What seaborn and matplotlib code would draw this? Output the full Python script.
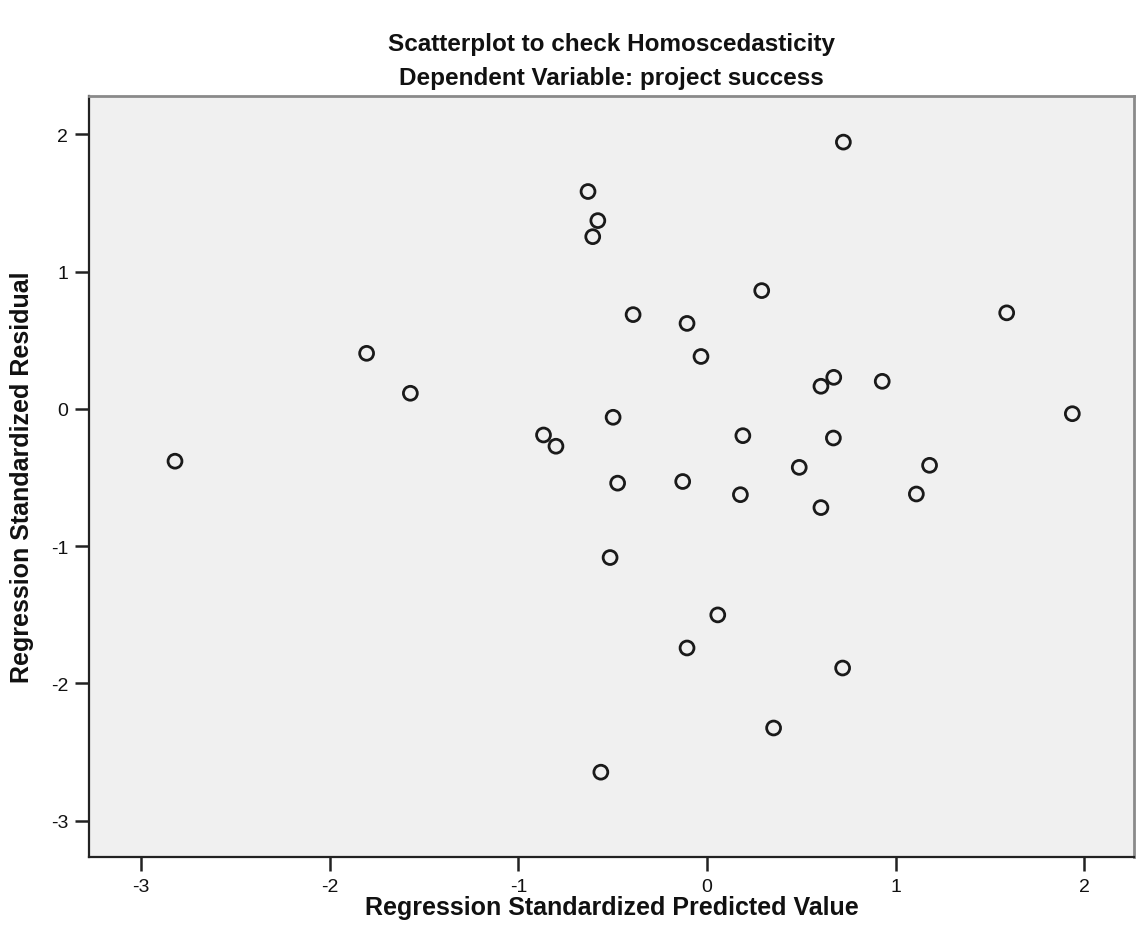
import matplotlib
matplotlib.use("Agg")
import matplotlib.pyplot as plt
import seaborn as sns
import pandas as pd

# Standardized predicted values and standardized residuals from the regression
predicted = [
    0.723, -0.631, -0.579, -0.606, 0.290, -0.392, -0.106, 1.589,
    -1.805, -1.573, -0.032, 0.604, 0.672, 0.929, 1.937, -0.498,
    -0.867, -0.801, -2.821, 0.190, 0.670, 0.489, 1.180, -0.474,
    -0.129, 0.177, 1.110, 0.604, -0.514, 0.057, -0.106, 0.719,
    0.353, -0.563,
]
residual = [
    1.944, 1.584, 1.372, 1.255, 0.862, 0.687, 0.623, 0.700,
    0.405, 0.114, 0.382, 0.165, 0.230, 0.201, -0.035, -0.061,
    -0.190, -0.272, -0.381, -0.195, -0.212, -0.426, -0.411, -0.541,
    -0.529, -0.625, -0.620, -0.719, -1.083, -1.501, -1.742, -1.888,
    -2.325, -2.647,
]

x_ticks = [-3, -2, -1, 0, 1, 2]
y_ticks = [-3, -2, -1, 0, 1, 2]

title_line1 = "Scatterplot to check Homoscedasticity"
title_line2 = "Dependent Variable: project success"
x_label = "Regression Standardized Predicted Value"
y_label = "Regression Standardized Residual"

df = pd.DataFrame({"pred": predicted, "resid": residual})

sns.set_theme(style="white")
plt.rcParams["font.family"] = ["Liberation Sans", "DejaVu Sans"]

fig = plt.figure(figsize=(11.36, 9.53), dpi=100)
ax = fig.add_axes([89 / 1136, 1 - 858 / 953, (1134 - 89) / 1136, (858 - 97) / 953])
ax.set_facecolor("#f0f0f0")

sns.scatterplot(
    data=df, x="pred", y="resid", ax=ax,
    marker="o", s=100, facecolor="none", edgecolor="#1a1a1a", linewidth=2.0,
    legend=False,
)

ax.set_xlim(-3.277, 2.264)
ax.set_ylim(-3.265, 2.28)
ax.set_xticks(x_ticks)
ax.set_yticks(y_ticks)
ax.set_xticklabels([str(t) for t in x_ticks])
ax.set_yticklabels([str(t) for t in y_ticks])
ax.tick_params(axis="both", which="major", direction="out", length=10, width=1.8,
               color="#222222", labelsize=14, labelcolor="#111111", pad=5,
               left=True, bottom=True)

for side in ["left", "bottom"]:
    ax.spines[side].set_color("#222222")
    ax.spines[side].set_linewidth(1.6)
for side in ["top", "right"]:
    ax.spines[side].set_color("#8a8a8a")
    ax.spines[side].set_linewidth(2.0)

ax.set_xlabel(x_label, fontsize=18, fontweight="bold", labelpad=0, color="#111111")
ax.set_ylabel(y_label, fontsize=18, fontweight="bold", labelpad=12, color="#111111")

cx = (89 + 1134) / 2 / 1136
fig.text(cx, 1 - 44 / 953, title_line1, ha="center", va="center",
         fontsize=17.5, fontweight="bold", color="#111111")
fig.text(cx, 1 - 79 / 953, title_line2, ha="center", va="center",
         fontsize=17.5, fontweight="bold", color="#111111")

fig.savefig("out.png", dpi=100, facecolor="white")
